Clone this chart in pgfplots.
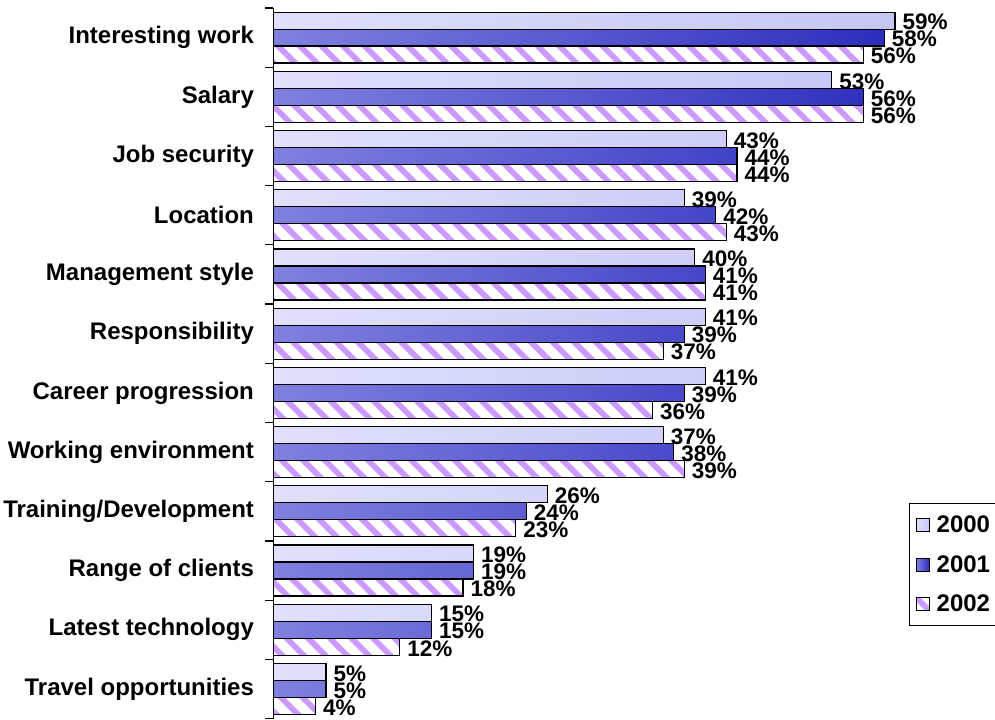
\documentclass[border=0pt]{standalone}
\usepackage{pgfplots}
\pgfplotsset{compat=1.18}
\usepackage{fontspec}
\setmainfont{Liberation Sans}
\usetikzlibrary{patterns.meta}
\definecolor{c0a}{RGB}{224,224,252}
\definecolor{c0b}{RGB}{198,198,244}
\definecolor{c1a}{RGB}{128,128,224}
\definecolor{c1b}{RGB}{46,46,190}
\definecolor{hatch}{RGB}{204,153,255}
\begin{document}
\begin{tikzpicture}
\path (-273pt,0pt) rectangle (722pt,719pt);
\begin{axis}[
  at={(0pt,0pt)}, anchor=south west,
  scale only axis, width=722pt, height=711pt,
  xbar, xmin=0, xmax=68.5,
  ymin=-0.5, ymax=11.5, y dir=reverse,
  bar width=17pt,
  axis x line=none, axis y line*=left,
  axis line style={line width=1.3pt, black},
  ytick={0,...,11},
  yticklabels={Interesting work, Salary, Job security, Location, Management style, Responsibility, Career progression, Working environment, Training/Development, Range of clients, Latest technology, Travel opportunities},
  minor ytick={-0.5,0.5,...,11.5},
  major tick length=0pt, minor tick length=8pt, tick align=outside,
  tick style={black, line width=1.2pt},
  yticklabel style={font=\fontsize{24}{28}\selectfont\bfseries, xshift=-16pt},
  nodes near coords={\pgfmathprintnumber{\pgfplotspointmeta}\%},
  nodes near coords style={font=\fontsize{22.5}{26}\selectfont\bfseries, anchor=west, inner sep=1pt, xshift=6pt, yshift=-1.5pt},
  /pgf/number format/assume math mode=true,
  clip=false,
  legend style={at={(0.881,0.304)}, anchor=north west, draw=black, line width=1.2pt, overlay,
    font=\fontsize{24}{28}\selectfont\bfseries, row sep=17pt, inner xsep=6pt, inner ysep=11pt,
    /tikz/every odd column/.append style={column sep=5pt}},
  legend cell align=left,
  legend image code/.code={\draw[#1, draw=black, line width=1pt] (0pt,-6.5pt) rectangle (13pt,6.5pt);},
]
\addplot[bar shift=17pt, draw=black, line width=1.2pt, left color=c0a, right color=c0b]
  coordinates {(59,0) (53,1) (43,2) (39,3) (40,4) (41,5) (41,6) (37,7) (26,8) (19,9) (15,10) (5,11)};
\addplot[bar shift=0pt, draw=black, line width=1.2pt, left color=c1a, right color=c1b]
  coordinates {(58,0) (56,1) (44,2) (42,3) (41,4) (39,5) (39,6) (38,7) (24,8) (19,9) (15,10) (5,11)};
\addplot[bar shift=-17pt, draw=black, line width=1.2pt, pattern color=hatch, pattern={Lines[angle=-45,distance=15.3pt,line width=5.7pt]}]
  coordinates {(56,0) (56,1) (44,2) (43,3) (41,4) (37,5) (36,6) (39,7) (23,8) (18,9) (12,10) (4,11)};
\legend{2000,2001,2002}
\end{axis}
\end{tikzpicture}
\end{document}
